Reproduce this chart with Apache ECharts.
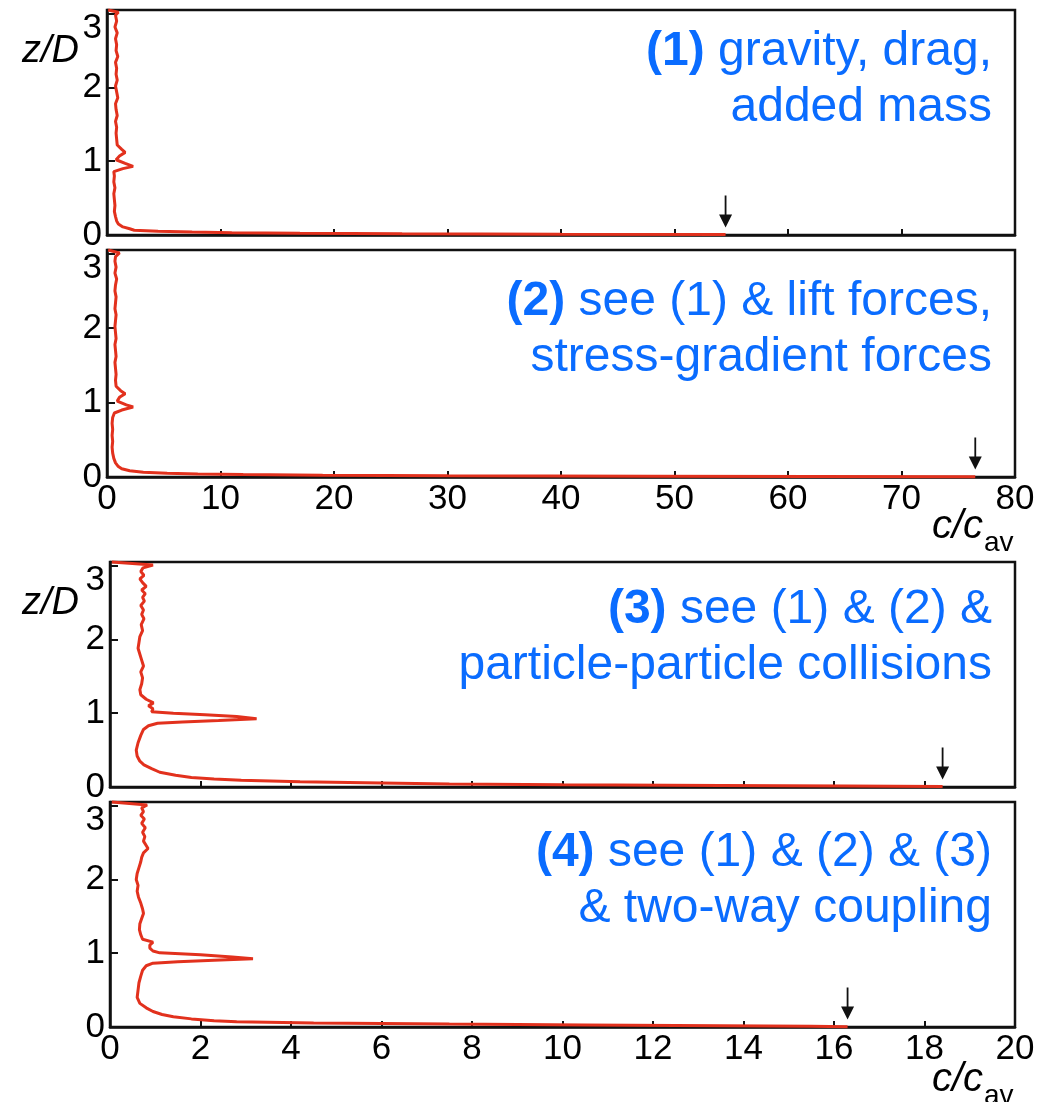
<!DOCTYPE html>
<html>
<head>
<meta charset="utf-8">
<title>c/c_av profiles</title>
<script src="https://cdn.jsdelivr.net/npm/echarts@6/dist/echarts.min.js"></script>
<style>
html, body { margin: 0; padding: 0; background: #fff; }
#main { width: 1046px; height: 1102px; }
</style>
</head>
<body>
<div id="main"></div>
<script>
// profiles: height z/D and concentration c/c_av, top to bottom
const z1 = [3.05, 3.02, 2.98, 2.9, 2.82, 2.74, 2.66, 2.58, 2.5, 2.42, 2.34, 2.26, 2.18, 2.1, 2.02, 1.94, 1.86, 1.78, 1.7, 1.62, 1.54, 1.46, 1.38, 1.3, 1.22, 1.16, 1.12, 1.07, 1.02, 0.97, 0.93, 0.9, 0.86, 0.8, 0.72, 0.64, 0.56, 0.48, 0.4, 0.32, 0.25, 0.19, 0.15, 0.11, 0.085, 0.065, 0.05, 0.04, 0.032, 0.024, 0.017, 0.011, 0.006]
const c1 = [0.1, 1.0, 0.75, 0.85, 0.7, 0.9, 0.75, 0.85, 0.8, 0.95, 0.75, 0.85, 0.8, 0.9, 0.75, 0.85, 0.95, 0.75, 0.8, 0.9, 0.75, 0.85, 0.8, 0.85, 0.9, 1.3, 1.6, 1.1, 0.8, 1.6, 2.3, 1.4, 0.6, 0.65, 0.6, 0.7, 0.6, 0.65, 0.7, 0.65, 0.75, 0.85, 1.0, 1.4, 2.0, 2.4, 4.5, 7.5, 11, 17, 26, 40, 54.5]

const z2 = [3.05, 3.01, 2.96, 2.9, 2.82, 2.74, 2.66, 2.58, 2.5, 2.42, 2.34, 2.26, 2.18, 2.1, 2.02, 1.94, 1.86, 1.78, 1.7, 1.62, 1.54, 1.46, 1.38, 1.3, 1.22, 1.16, 1.12, 1.07, 1.02, 0.97, 0.94, 0.9, 0.86, 0.8, 0.72, 0.64, 0.56, 0.48, 0.4, 0.32, 0.25, 0.19, 0.14, 0.11, 0.085, 0.065, 0.05, 0.04, 0.032, 0.024, 0.017, 0.011, 0.005]
const c2 = [0.1, 1.1, 0.75, 0.7, 0.8, 0.7, 0.85, 0.75, 0.7, 0.8, 0.75, 0.7, 0.8, 0.75, 0.7, 0.75, 0.8, 0.7, 0.75, 0.8, 0.7, 0.75, 0.8, 0.75, 0.8, 1.2, 1.6, 1.1, 0.9, 1.7, 2.3, 1.3, 0.65, 0.5, 0.45, 0.5, 0.45, 0.5, 0.45, 0.5, 0.6, 0.75, 1.0, 1.3, 2.0, 3.2, 5.3, 8, 12, 19, 30, 48, 76.5]

const z3 = [3.05, 3.01, 2.97, 2.92, 2.87, 2.82, 2.77, 2.72, 2.67, 2.62, 2.57, 2.52, 2.46, 2.4, 2.34, 2.28, 2.2, 2.12, 2.04, 1.96, 1.88, 1.8, 1.72, 1.64, 1.56, 1.48, 1.4, 1.32, 1.25, 1.19, 1.14, 1.1, 1.06, 1.02, 1.0, 0.98, 0.955, 0.925, 0.9, 0.88, 0.865, 0.83, 0.78, 0.7, 0.6, 0.5, 0.42, 0.35, 0.3, 0.25, 0.2, 0.16, 0.13, 0.11, 0.09, 0.07, 0.055, 0.042, 0.03, 0.02, 0.012, 0.006]
const c3 = [0.04, 0.95, 0.73, 0.68, 0.75, 0.66, 0.72, 0.8, 0.7, 0.78, 0.72, 0.76, 0.68, 0.74, 0.7, 0.75, 0.69, 0.72, 0.66, 0.64, 0.62, 0.66, 0.7, 0.74, 0.68, 0.72, 0.7, 0.66, 0.68, 0.8, 0.96, 0.85, 0.95, 0.92, 1.4, 2.1, 2.8, 3.24, 2.4, 1.6, 1.05, 0.85, 0.74, 0.68, 0.62, 0.58, 0.6, 0.66, 0.75, 0.92, 1.1, 1.45, 1.8, 2.3, 2.9, 4.2, 6.0, 7.5, 10, 13.5, 16.3, 18.4]

const z4 = [3.05, 3.01, 2.97, 2.92, 2.87, 2.82, 2.76, 2.7, 2.64, 2.58, 2.52, 2.46, 2.42, 2.36, 2.3, 2.24, 2.16, 2.08, 2.0, 1.92, 1.84, 1.76, 1.68, 1.6, 1.54, 1.47, 1.4, 1.32, 1.25, 1.19, 1.15, 1.11, 1.07, 1.03, 1.005, 0.98, 0.95, 0.925, 0.905, 0.885, 0.865, 0.83, 0.77, 0.69, 0.6, 0.5, 0.4, 0.32, 0.26, 0.21, 0.17, 0.14, 0.11, 0.085, 0.07, 0.055, 0.04, 0.028, 0.018, 0.01, 0.005]
const c4 = [0.04, 0.82, 0.7, 0.74, 0.68, 0.76, 0.7, 0.78, 0.72, 0.77, 0.74, 0.8, 0.84, 0.74, 0.7, 0.68, 0.64, 0.6, 0.58, 0.62, 0.6, 0.63, 0.68, 0.72, 0.74, 0.7, 0.66, 0.65, 0.68, 0.72, 0.95, 0.88, 0.88, 0.95, 1.1, 2.0, 2.7, 3.16, 2.3, 1.5, 0.95, 0.8, 0.72, 0.68, 0.64, 0.62, 0.6, 0.66, 0.8, 0.95, 1.15, 1.4, 1.8, 2.3, 2.8, 4.5, 7.5, 10.5, 13.5, 15.5, 16.3]

// axis ranges
const xMaxes = [80, 80, 20, 20]
const xSteps = [10, 10, 2, 2]
const zMax = 3.05

// caption lines: bold tag, then the rest
const captionTags = ['(1)', '(2)', '(3)', '(4)']
const captionLine1 = [' gravity, drag,', ' see (1) & lift forces,', ' see (1) & (2) &', ' see (1) & (2) & (3)']
const captionLine2 = ['added mass', 'stress-gradient forces', 'particle-particle collisions', '& two-way coupling']

const panelZ = [z1, z2, z3, z4]
const panelC = [c1, c2, c3, c4]

const font = '"Liberation Sans", Arial, Helvetica, sans-serif'
const ink = '#111'
const red = '#e2311d'
const blue = '#0a6cff'
// down arrow marking the wall peak
const arrowPath = 'path://M5.6,0 L7.4,0 L7.4,19 L13,19 L6.5,32 L0,19 L5.6,19 Z'

const gridBoxes = [
  { left: 107, top: 10, height: 225 },
  { left: 107, top: 250, height: 227 },
  { left: 110, top: 562, height: 225 },
  { left: 110, top: 802, height: 225 }
]
const captionTops = [24, 274, 582, 825]

var myChart = echarts.init(document.getElementById('main'))

// blue captions, right aligned line by line
const captionGraphics = captionTags.map((tag, i) => ({
  type: 'text',
  right: 54,
  top: captionTops[i],
  style: {
    text: '{b|' + tag + '}{n|' + captionLine1[i] + '}\n{n|' + captionLine2[i] + '}',
    fill: blue,
    fontSize: 48,
    fontFamily: font,
    align: 'right',
    lineHeight: 56,
    rich: {
      b: { fontWeight: 'bold', fontSize: 48, fontFamily: font, fill: blue, lineHeight: 56, align: 'right' },
      n: { fontSize: 48, fontFamily: font, fill: blue, lineHeight: 56, align: 'right' }
    }
  }
}))

// axis names: z/D at the top left of panels 1 and 3, c/c_av under panels 2 and 4
const nameGraphics = []
;[51, 603].forEach(y => {
  nameGraphics.push({
    type: 'text',
    x: 79,
    y: y,
    style: { text: 'z/D', fill: '#000', fontSize: 38, fontStyle: 'italic', fontFamily: font, align: 'right', verticalAlign: 'middle' }
  })
})
;[541, 1094].forEach(b => {
  nameGraphics.push({
    type: 'text',
    x: 983,
    y: b - 14,
    style: { text: 'c/c', fill: '#000', fontSize: 40, fontStyle: 'italic', fontFamily: font, align: 'right', verticalAlign: 'middle' }
  })
  nameGraphics.push({
    type: 'text',
    x: 984,
    y: b + 2,
    style: { text: 'av', fill: '#000', fontSize: 28, fontFamily: font, align: 'left', verticalAlign: 'middle' }
  })
})

const option = {
  animation: false,
  backgroundColor: '#fff',
  grid: gridBoxes.map(g => ({
    left: g.left,
    right: 31,
    top: g.top,
    height: g.height,
    show: true,
    borderColor: ink,
    borderWidth: 2.5,
    outerBoundsMode: 'none'
  })),
  xAxis: panelZ.map((_, i) => ({
    type: 'value',
    gridIndex: i,
    min: 0,
    max: xMaxes[i],
    interval: xSteps[i],
    axisLine: { show: true, onZero: false, lineStyle: { color: ink, width: 2.5 } },
    axisTick: { show: true, inside: true, length: 6, lineStyle: { color: ink, width: 2 } },
    axisLabel: { show: i === 1 || i === 3, color: '#000', fontSize: 35, fontFamily: font, margin: 5 },
    splitLine: { show: false }
  })),
  yAxis: panelZ.map((_, i) => ({
    type: 'value',
    gridIndex: i,
    min: 0,
    max: zMax,
    interval: 1,
    axisLine: { show: true, onZero: false, lineStyle: { color: ink, width: 2.5 } },
    axisTick: { show: true, inside: true, length: 8, lineStyle: { color: ink, width: 2 } },
    axisLabel: {
      color: '#000',
      fontSize: 35,
      fontFamily: font,
      margin: 5,
      formatter: v => (v === 3 ? '{t|3}' : (Number.isInteger(v) ? String(v) : '')),
      rich: { t: { fontSize: 35, fontFamily: font, color: '#000', padding: [30, 0, 0, 0] } }
    },
    splitLine: { show: false }
  })),
  series: panelZ.map((z, i) => {
    const c = panelC[i]
    return {
      type: 'line',
      xAxisIndex: i,
      yAxisIndex: i,
      data: c.map((v, k) => [v, z[k]]),
      symbol: 'none',
      clip: false,
      lineStyle: { color: red, width: 3 },
      itemStyle: { color: red },
      markPoint: {
        silent: true,
        symbol: arrowPath,
        symbolSize: [13, 32],
        symbolOffset: [0, '-50%'],
        itemStyle: { color: ink },
        label: { show: false },
        data: [{ coord: [Math.max(...c), 0.1] }]
      }
    }
  }),
  graphic: captionGraphics.concat(nameGraphics)
}

myChart.setOption(option)
</script>
</body>
</html>
